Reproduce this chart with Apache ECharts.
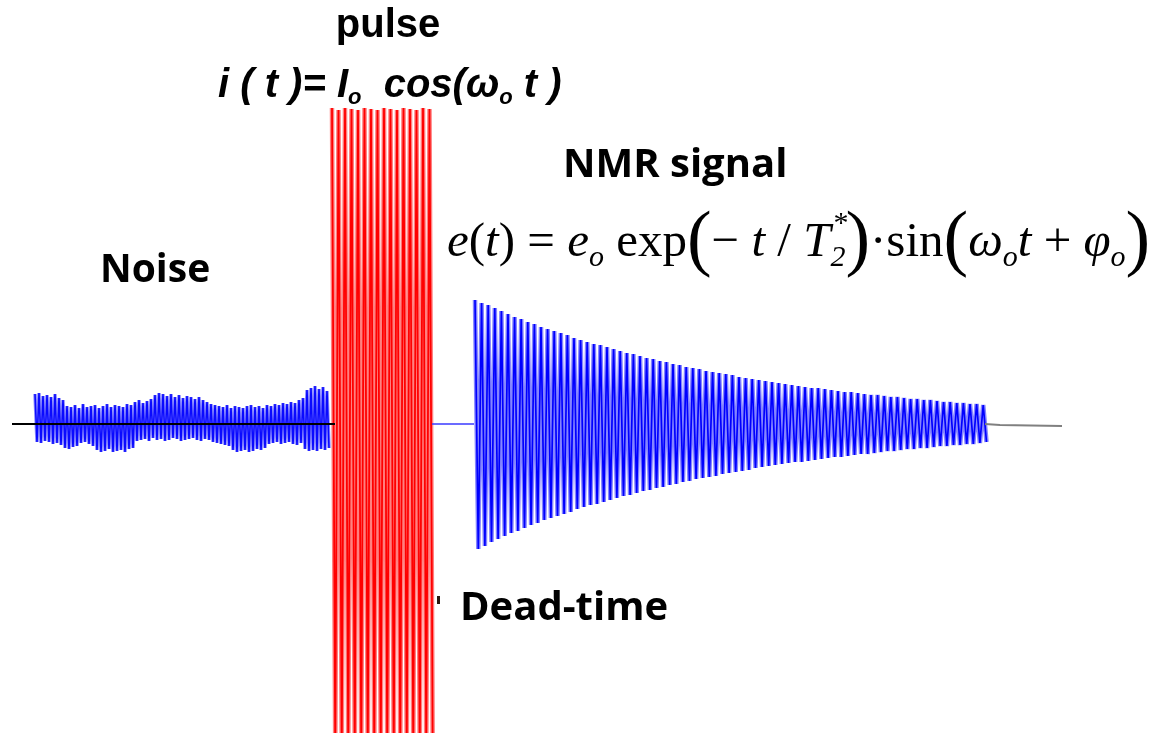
<!DOCTYPE html>
<html>
<head>
<meta charset="utf-8">
<title>NMR pulse and signal</title>
<script src="https://cdn.jsdelivr.net/npm/echarts@6/dist/echarts.min.js"></script>
<style>
  html, body { margin: 0; padding: 0; background: #fff; }
  #main { width: 1155px; height: 733px; }
</style>
</head>
<body>
<div id="main"></div>
<script>
// time runs along x, amplitude is measured from the baseline (up is positive)

// noise before the pulse: one top and one bottom per cycle
var noiseStart = 35, noiseStep = 4;
var noiseTop = [30, 31, 28, 29, 27, 30, 26, 24,
	18, 17, 19, 16, 20, 17, 18, 19, 16, 18, 20, 17, 19, 18, 17, 20, 19, 22, 24, 21, 23, 25,
	29, 31, 30, 28, 30, 27, 29, 26, 28, 27, 25, 27, 24, 22, 20, 19,
	18, 17, 19, 16, 18, 17, 16, 18, 19, 17, 18, 16, 19, 18, 20, 19, 21, 20, 22, 21, 24, 26,
	34, 36, 38, 35, 37, 33];
var noiseBottom = [18, 19, 17, 18, 20, 19, 21,
	24, 25, 23, 22,
	19, 18, 20, 22,
	26, 28, 27, 25, 28, 27, 26, 28, 25, 24,
	17, 16, 15, 17, 14, 16, 15, 17, 16, 14, 15, 17, 16, 15, 14, 16, 17, 15, 16, 18, 19,
	20, 21, 22,
	26, 28, 27, 26, 28, 27, 25, 26, 24,
	20, 19, 18, 20, 19, 18, 20, 21, 19,
	25, 27, 26, 27, 25, 26, 24];

// rf pulse i(t)
var pulseStart = 332, pulseStep = 6.5;
var pulseTop = [316, 314, 316, 315, 314, 316, 315, 314, 316, 315, 314, 316, 315, 314, 316, 315];
var pulseBottom = [330, 332, 330, 331, 330, 332, 330, 331, 330, 332, 330, 331, 330, 332, 330, 331];

// free induction decay e(t)
var nmrStart = 475, nmrStep = 6.6;
var nmrTop = [124, 121, 119, 116, 113, 110, 107, 105, 102, 100,
	97, 95, 93, 91, 89, 86, 84, 82, 80, 79,
	77, 75, 73, 71, 70, 68, 66, 65, 63, 62,
	60, 59, 57, 56, 55, 53, 52, 51, 50, 49,
	47, 46, 45, 44, 43, 42, 41, 40, 39, 38,
	37, 36, 36, 35, 34, 33, 32, 32, 31, 30,
	29, 29, 28, 27, 27, 26, 25, 25, 24, 24,
	23, 22, 22, 21, 21, 20, 20, 19];
var nmrBottom = [125, 122, 118, 115, 112, 109, 107, 104, 101, 99,
	96, 94, 92, 90, 88, 85, 83, 81, 80, 78,
	76, 74, 72, 71, 69, 67, 66, 64, 63, 61,
	60, 58, 57, 55, 54, 53, 52, 50, 49, 48,
	47, 46, 44, 43, 42, 41, 40, 39, 38, 38,
	37, 36, 35, 34, 33, 33, 32, 31, 30, 30,
	29, 28, 27, 27, 26, 25, 25, 24, 24, 23,
	22, 22, 21, 21, 20, 20, 19, 18];

// flat parts of the trace
var baseLine = [[12, 0], [335, 0]];
var deadTime = [[432, 0], [474, 0]];
var tailLine = [[985, 0], [1000, -1], [1062, -2]];

function zigzag(start, step, top, bottom) {
	var pts = [];
	for (var i = 0; i < top.length; i++) {
		pts.push([start + i * step, top[i]]);
		pts.push([start + i * step + step / 2, -bottom[i]]);
	}
	return pts;
}

var noise = zigzag(noiseStart, noiseStep, noiseTop, noiseBottom);
var pulse = zigzag(pulseStart, pulseStep, pulseTop, pulseBottom);
var nmr = zigzag(nmrStart, nmrStep, nmrTop, nmrBottom);

var chart = echarts.init(document.getElementById('main'));

var serif = '"Liberation Serif", "Times New Roman", serif';
var arial = '"Liberation Sans", Arial, sans-serif';
var calibri = '"Open Sans", "Noto Sans", sans-serif';

function line(data, color, width, z) {
	return {
		type: 'line',
		data: data,
		symbol: 'none',
		z: z,
		lineStyle: { color: color, width: width },
		silent: true
	};
}

var option = {
	animation: false,
	backgroundColor: '#fff',
	grid: { left: 0, right: 0, top: 0, bottom: 0 },
	xAxis: { type: 'value', min: 0, max: 1155, show: false },
	yAxis: { type: 'value', min: -309, max: 424, show: false },
	series: [
		// soft halo under each trace, then the trace itself
		line(noise, '#8c8cff', 3.5, 1),
		line(noise, '#0a0aff', 1.6, 2),
		line(baseLine, '#000', 2, 3),
		line(pulse, '#ff8080', 4.5, 1),
		line(pulse, '#ff0000', 1.8, 2),
		line(deadTime, '#3a3aff', 1.5, 2),
		line(nmr, '#8585ff', 4.5, 1),
		line(nmr, '#0000ff', 1.7, 2),
		line(tailLine, '#808080', 2, 2)
	],
	graphic: [
		{
			type: 'text', z: 10,
			style: { text: 'pulse', x: 388, y: 26, align: 'center', verticalAlign: 'middle',
				font: 'bold 40px ' + arial, fill: '#000' }
		},
		{
			type: 'text', z: 10,
			style: {
				text: '{b|i ( t )= I}{s|o}{b|  cos(ω}{s|o}{b| t )}',
				x: 218, y: 86, verticalAlign: 'middle',
				rich: {
					b: { font: 'italic bold 40px ' + arial, fill: '#000', lineHeight: 46, verticalAlign: 'middle' },
					s: { font: 'italic bold 22px ' + arial, fill: '#000', lineHeight: 22, verticalAlign: 'bottom' }
				}
			}
		},
		{
			type: 'text', z: 10,
			style: { text: 'NMR signal', x: 563, y: 166, verticalAlign: 'middle',
				font: 'bold 40px ' + calibri, fill: '#000' }
		},
		{
			type: 'text', z: 10,
			style: { text: 'Noise', x: 100, y: 271, verticalAlign: 'middle',
				font: 'bold 39px ' + calibri, fill: '#000' }
		},
		{
			type: 'text', z: 10,
			style: { text: 'Dead-time', x: 460, y: 609, verticalAlign: 'middle',
				font: 'bold 40px ' + calibri, fill: '#000' }
		},
		{
			type: 'text', z: 10,
			style: {
				text: '{i|e}{r|(}{i|t}{r|) = }{i|e}{s|o}{r| exp}{p|(}{r|− }{i|t}{r| / }{i|T}{s|2}{p|)}{r|·sin}{p|(}{i|ω}{s|o}{i|t}{r| + }{i|φ}{s|o}{p|)}',
				x: 447, y: 243, verticalAlign: 'middle',
				rich: {
					i: { font: 'italic 49px ' + serif, fill: '#000', lineHeight: 60, verticalAlign: 'middle' },
					r: { font: '49px ' + serif, fill: '#000', lineHeight: 60, verticalAlign: 'middle' },
					s: { font: 'italic 30px ' + serif, fill: '#000', lineHeight: 26, verticalAlign: 'bottom' },
					p: { font: '74px ' + serif, fill: '#000', lineHeight: 60, verticalAlign: 'middle' }
				}
			}
		},
		{
			type: 'text', z: 10,
			style: { text: '*', x: 841, y: 224, align: 'center', verticalAlign: 'middle',
				font: '30px ' + serif, fill: '#000' }
		},
		{
			type: 'rect', z: 10,
			shape: { x: 437, y: 596, width: 3, height: 8 },
			style: { fill: '#2a1a10' }
		}
	]
};

chart.setOption(option);
</script>
</body>
</html>
